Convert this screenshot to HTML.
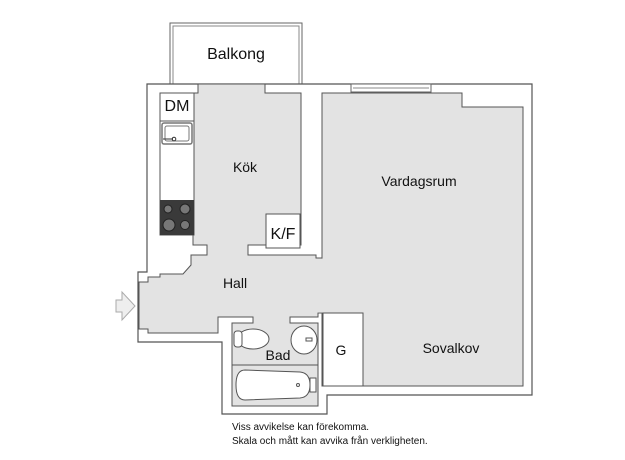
<!DOCTYPE html>
<html><head><style>body{margin:0;background:#fff}svg{display:block}text{font-family:"Liberation Sans",sans-serif;fill:#111}</style></head><body>
<svg width="625" height="460" viewBox="0 0 625 460" xmlns="http://www.w3.org/2000/svg">
<rect width="625" height="460" fill="#fff"/>
<rect x="170" y="23" width="132" height="61" fill="#fff" stroke="#666" stroke-width="1"/>
<rect x="173" y="26" width="126" height="58" fill="none" stroke="#888" stroke-width="1"/>
<polygon points="147,84 532,84 532,395 327,395 327,414 222,414 222,342 138,342 138,272 147,272" fill="#fff" stroke="#555" stroke-width="1.2"/>
<g fill="#e3e3e3" stroke="#555" stroke-width="1">
<polygon points="193,93 198,93 198,84 265,84 265,93 301,93 301,245 248,245 248,255 316,255 316,258 322,258 322,313 318,313 318,317 218,317 218,333 148,333 148,329 139,329 139,282 148,282 148,277 160,277 160,274 183,274 191,265 191,255 207,255 207,245 193,245"/>
<polygon points="322,93 462,93 462,107 523,107 523,386 322,386"/>
</g>
<rect x="316" y="258.6" width="8" height="54" fill="#e3e3e3"/>
<!-- bath -->
<rect x="232" y="323" width="86" height="83" fill="#e3e3e3" stroke="#555"/>
<rect x="253.5" y="316" width="36" height="8" fill="#e3e3e3"/>
<line x1="253" y1="317" x2="253" y2="323" stroke="#555"/>
<line x1="290" y1="317" x2="290" y2="323" stroke="#555"/>
<line x1="232" y1="365" x2="318" y2="365" stroke="#555"/>
<path d="M245,370 L300,372 Q310,373 310,385 Q310,397 300,398 L245,400 Q236,400 236,385 Q236,370 245,370Z" fill="#fff" stroke="#555"/>
<circle cx="298" cy="385" r="1.5" fill="none" stroke="#555"/>
<rect x="310" y="378" width="6" height="14" fill="#fff" stroke="#555"/>
<ellipse cx="253" cy="339" rx="16" ry="10" fill="#fff" stroke="#555"/>
<rect x="234" y="331" width="8" height="16" rx="3" fill="#fff" stroke="#555"/>
<ellipse cx="304" cy="340" rx="13" ry="14" fill="#fff" stroke="#555"/>
<rect x="306" y="338" width="6" height="3" fill="#fff" stroke="#555"/>
<rect x="323" y="313" width="40" height="73" fill="#fff" stroke="#555"/>
<rect x="351" y="84" width="80" height="8" fill="#fff" stroke="#666"/>
<line x1="353" y1="88" x2="429" y2="88" stroke="#888"/>
<rect x="160" y="93" width="34" height="142" fill="#fff" stroke="#555"/>
<line x1="160" y1="121" x2="194" y2="121" stroke="#555"/>
<rect x="162" y="123" width="30" height="21" rx="2" fill="#fff" stroke="#777" stroke-width="1.5"/>
<rect x="165" y="126" width="24" height="15" rx="2" fill="none" stroke="#777"/>
<line x1="163" y1="139" x2="173" y2="139" stroke="#333"/>
<circle cx="174" cy="139" r="1.8" fill="none" stroke="#333"/>
<rect x="160" y="200" width="34" height="35" fill="#3a3a3a"/>
<circle cx="168" cy="209" r="4" fill="#777" stroke="#222"/>
<circle cx="185" cy="209" r="5" fill="#777" stroke="#222"/>
<circle cx="169" cy="225" r="6" fill="#777" stroke="#222"/>
<circle cx="185" cy="225" r="4.5" fill="#777" stroke="#222"/>
<rect x="266" y="214" width="34" height="34" fill="#fff" stroke="#555"/>
<polygon points="116,300 122,300 122,292 135,306 122,320 122,312 116,312" fill="#eee" stroke="#aaa"/>
<g font-size="16">
<text x="236" y="59" text-anchor="middle">Balkong</text>
<text x="177" y="111" text-anchor="middle">DM</text>
<text x="283" y="239" text-anchor="middle">K/F</text>
</g>
<g font-size="14">
<text x="245" y="172" text-anchor="middle">Kök</text>
<text x="419" y="186" text-anchor="middle">Vardagsrum</text>
<text x="235" y="288" text-anchor="middle">Hall</text>
<text x="278" y="360" text-anchor="middle">Bad</text>
<text x="341" y="355" text-anchor="middle">G</text>
<text x="451" y="353" text-anchor="middle">Sovalkov</text>
</g>
<g font-size="10">
<text x="232" y="430">Viss avvikelse kan förekomma.</text>
<text x="232" y="444">Skala och mått kan avvika från verkligheten.</text>
</g>
</svg>
</body></html>
